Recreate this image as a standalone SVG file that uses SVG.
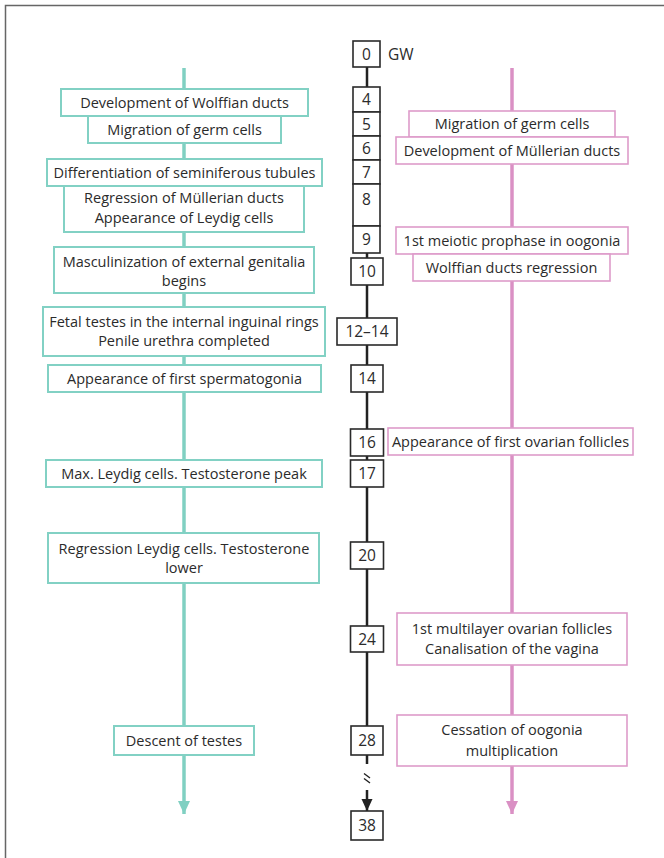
<svg xmlns="http://www.w3.org/2000/svg" width="664" height="858" viewBox="0 0 664 858">
<style>
text{font-family:"Open Sans","Noto Sans","Liberation Sans",sans-serif;font-size:14.5px;fill:#2b2b2b;text-anchor:middle}
.num{font-size:15.5px}
.g{fill:#fff;stroke:#82d1c4;stroke-width:2}
.p{fill:#fff;stroke:#de9bca;stroke-width:1.6}
.k{fill:#fff;stroke:#2a2a2a;stroke-width:1.6}
</style>
<defs>
<marker id="ag" markerUnits="userSpaceOnUse" markerWidth="14" markerHeight="14" refX="13" refY="7" orient="auto" viewBox="0 0 14 14"><path d="M0,1 L13,7 L0,13 Z" fill="#80d0c2"/></marker>
<marker id="ap" markerUnits="userSpaceOnUse" markerWidth="14" markerHeight="14" refX="13" refY="7" orient="auto" viewBox="0 0 14 14"><path d="M0,1 L13,7 L0,13 Z" fill="#da90c4"/></marker>
<marker id="ak" markerUnits="userSpaceOnUse" markerWidth="14" markerHeight="14" refX="12" refY="7" orient="auto" viewBox="0 0 14 14"><path d="M0,1.5 L12,7 L0,12.5 Z" fill="#222"/></marker>
</defs>
<path d="M5.5,858 V5.5 H664" fill="none" stroke="#666" stroke-width="1.5"/>
<g id="connectors">
<line x1="184" y1="68" x2="184" y2="814" stroke="#80d0c2" stroke-width="3.5" marker-end="url(#ag)"/>
<line x1="512" y1="68" x2="512" y2="814" stroke="#da90c4" stroke-width="3.5" marker-end="url(#ap)"/>
<line x1="367" y1="66" x2="367" y2="764" stroke="#222" stroke-width="2.5"/>
<line x1="367" y1="790" x2="367" y2="811" stroke="#222" stroke-width="2.5" marker-end="url(#ak)"/>
<path d="M364,773.5 L370,778 M364,778.5 L370,783" stroke="#222" stroke-width="1.4" fill="none"/>
</g>
<g id="male">
<g id="m1"><rect class="g" x="61" y="89" width="247" height="27"/><text x="184.5" y="107.5">Development of Wolffian ducts</text></g>
<g id="m2"><rect class="g" x="88" y="116" width="193" height="27"/><text x="184.5" y="134.5">Migration of germ cells</text></g>
<g id="m3"><rect class="g" x="47" y="159" width="275" height="27"/><text x="184.5" y="177.5">Differentiation of seminiferous tubules</text></g>
<g id="m4"><rect class="g" x="64" y="186" width="240" height="46"/><text x="184" y="203">Regression of Müllerian ducts</text><text x="184" y="223">Appearance of Leydig cells</text></g>
<g id="m5"><rect class="g" x="54" y="247" width="260" height="46"/><text x="184" y="266.5">Masculinization of external genitalia</text><text x="184" y="286">begins</text></g>
<g id="m6"><rect class="g" x="43" y="307" width="282" height="49"/><text x="184" y="326.5">Fetal testes in the internal inguinal rings</text><text x="184" y="345.5">Penile urethra completed</text></g>
<g id="m7"><rect class="g" x="48" y="365" width="273" height="27"/><text x="184.5" y="383.5">Appearance of first spermatogonia</text></g>
<g id="m8"><rect class="g" x="46" y="460" width="276" height="27"/><text x="184" y="478.5">Max. Leydig cells. Testosterone peak</text></g>
<g id="m9"><rect class="g" x="48" y="533" width="271" height="50"/><text x="184" y="553.5">Regression Leydig cells. Testosterone</text><text x="184" y="573">lower</text></g>
<g id="m10"><rect class="g" x="114" y="726" width="140" height="29"/><text x="184" y="745.5">Descent of testes</text></g>
</g>
<g id="female">
<g id="f1"><rect class="p" x="409" y="111" width="206" height="26"/><text x="512" y="129">Migration of germ cells</text></g>
<g id="f2"><rect class="p" x="396" y="137" width="232" height="27"/><text x="512" y="155.5">Development of Müllerian ducts</text></g>
<g id="f3"><rect class="p" x="396" y="227" width="232" height="27"/><text x="512" y="245.5">1st meiotic prophase in oogonia</text></g>
<g id="f4"><rect class="p" x="413" y="254" width="197" height="27"/><text x="511.5" y="272.5">Wolffian ducts regression</text></g>
<g id="f5"><rect class="p" x="388" y="428" width="245" height="27"/><text x="510.5" y="447">Appearance of first ovarian follicles</text></g>
<g id="f6"><rect class="p" x="397" y="613" width="230" height="52"/><text x="512" y="634">1st multilayer ovarian follicles</text><text x="512" y="653.5">Canalisation of the vagina</text></g>
<g id="f7"><rect class="p" x="397" y="715" width="230" height="51"/><text x="512" y="735">Cessation of oogonia</text><text x="512" y="755.5">multiplication</text></g>
</g>
<g id="timeline">
<g id="w0"><rect class="k" x="353" y="41" width="27" height="26"/><text class="num" x="366.5" y="59.5">0</text><text class="num" x="388" y="59.5" style="text-anchor:start">GW</text></g>
<g id="w4"><rect class="k" x="353" y="87" width="27" height="25"/><text class="num" x="366.5" y="105">4</text></g>
<g id="w5"><rect class="k" x="353" y="112" width="27" height="24"/><text class="num" x="366.5" y="129.5">5</text></g>
<g id="w6"><rect class="k" x="353" y="136" width="27" height="24"/><text class="num" x="366.5" y="153.5">6</text></g>
<g id="w7"><rect class="k" x="353" y="160" width="27" height="24"/><text class="num" x="366.5" y="177.5">7</text></g>
<g id="w8"><rect class="k" x="353" y="184" width="27" height="42"/><text class="num" x="366.5" y="204.5">8</text></g>
<g id="w9"><rect class="k" x="353" y="226" width="27" height="27"/><text class="num" x="366.5" y="245">9</text></g>
<g id="w10"><rect class="k" x="351" y="258" width="32" height="27"/><text class="num" x="367" y="277">10</text></g>
<g id="w12"><rect class="k" x="337" y="318" width="60" height="27"/><text class="num" x="367" y="337">12–14</text></g>
<g id="w14"><rect class="k" x="351" y="365" width="32" height="27"/><text class="num" x="367" y="384">14</text></g>
<g id="w16"><rect class="k" x="350.5" y="429" width="33" height="27"/><text class="num" x="367" y="448">16</text></g>
<g id="w17"><rect class="k" x="350.5" y="460" width="33" height="27"/><text class="num" x="367" y="479">17</text></g>
<g id="w20"><rect class="k" x="350.5" y="542" width="33" height="27"/><text class="num" x="367" y="561">20</text></g>
<g id="w24"><rect class="k" x="350.5" y="626" width="33" height="26"/><text class="num" x="367" y="644.5">24</text></g>
<g id="w28"><rect class="k" x="351" y="726" width="32" height="29"/><text class="num" x="367" y="746">28</text></g>
<g id="w38"><rect class="k" x="351" y="811" width="32" height="29"/><text class="num" x="367" y="830.5">38</text></g>
</g>
</svg>
